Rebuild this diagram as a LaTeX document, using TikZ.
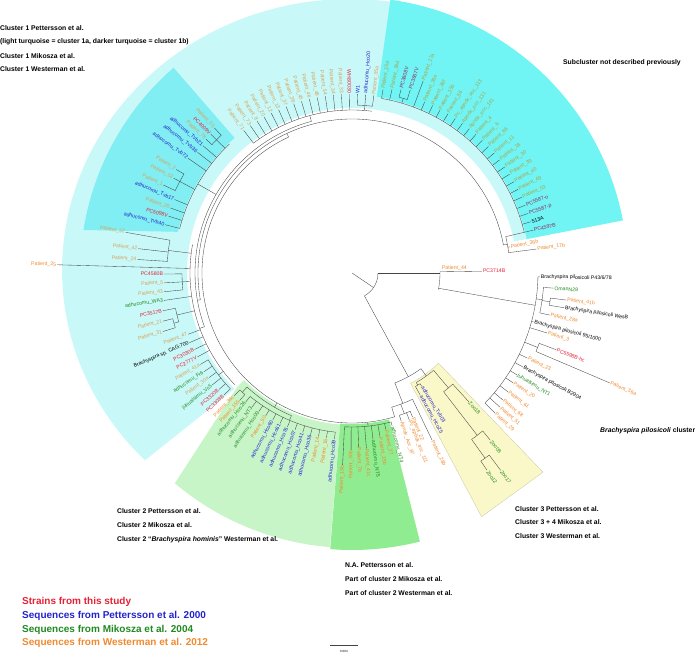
\documentclass[tikz,border=0pt]{standalone}
\usepackage{fontspec}
\setmainfont{Liberation Sans}
\usetikzlibrary{calc}
\definecolor{TreeRed}     {HTML}{E42235}
\definecolor{TreeBlue}    {HTML}{2323CC}
\definecolor{TreeGreen}   {HTML}{208A20}
\definecolor{TreeOrange}  {HTML}{F08A30}
\definecolor{OrangeOnCyan}{HTML}{D6A45C}
\definecolor{OrangeOnTeal}{HTML}{A9A648}
\definecolor{RedOnTeal}   {HTML}{8E2E60}
\definecolor{CyanLight}   {HTML}{C9F8F8}
\definecolor{CyanDark}    {HTML}{70F4F4}
\definecolor{CyanMid}     {HTML}{80EEF2}
\definecolor{GreenLight}  {HTML}{C8F5C8}
\definecolor{GreenDark}   {HTML}{90EC90}
\definecolor{YellowPale}  {HTML}{FAF8C8}
\definecolor{BranchGray}  {HTML}{444444}

\newcommand\lffont{\fontsize{5.2}{6}\selectfont}
\newcommand\capfont{\bfseries\fontsize{6.8}{8}\selectfont}
\newcommand\clade[3]{\draw[branch] (#1:#3) arc[start angle=#1,end angle=#2,radius=#3];}
\newcommand\stem[3]{\draw[branch] (#1:#2) -- (#1:#3);}
\newcommand\leaf[6]{% name, angle, tip, parent, text, colour
  \coordinate (#1) at (#2:#3);
  \draw[branch] (#2:#4) -- (#1);
  \pgfmathtruncatemacro\rside{cos(#2)>0}%
  \ifnum\rside=1
    \node[leaflab,text=#6,rotate=#2,anchor=west] (#1-l) at (#1) {#5};
  \else
    \node[leaflab,text=#6,rotate=#2-180,anchor=east] (#1-l) at (#1) {#5};
  \fi}

\begin{document}
\begin{tikzpicture}[x=1pt,y=1pt,
    branch/.style={draw=BranchGray,line width=0.35pt},
    leaflab/.style={font=\lffont,inner sep=0.8pt},
    caption/.style={font=\capfont,anchor=west,inner sep=0},
    legend/.style={font=\bfseries\fontsize{10}{12}\selectfont,anchor=west,inner sep=0}]
  \useasboundingbox (-352,-388) rectangle (344,273);

  % shaded clusters
  \fill[CyanLight] (11:162) -- (11:274) arc[start angle=11,end angle=82,radius=274]
    arc[start angle=82,end angle=224.6,x radius=288,y radius=271]
    -- (224.6:165) arc[start angle=224.6,end angle=11,radius=165] -- cycle;
  \fill[CyanDark] (11:178) -- (11:276) arc[start angle=11,end angle=82,radius=276]
    -- (82:178) arc[start angle=82,end angle=11,radius=178] -- cycle;
  \fill[CyanMid] (131:182) -- (131:272) arc[start angle=131,end angle=170.9,radius=272]
    -- (166.7:179) arc[start angle=166.7,end angle=131,radius=179] -- cycle;
  \fill[GreenLight] (224.8:162) -- (229.9:275) arc[start angle=229.9,end angle=265.4,radius=275]
    -- (265.5:152) arc[start angle=265.5,end angle=224.8,radius=152] -- cycle;
  \fill[GreenDark] (265.5:151) -- (265.5:277) arc[start angle=265.5,end angle=284.2,radius=277]
    -- (284.2:151) arc[start angle=284.2,end angle=265.5,radius=151] -- cycle;
  \filldraw[fill=YellowPale,draw=YellowPale!80!black,line width=0.3pt]
    (-62:125) -- (-62:276) -- (-46.2:276) -- (-46.2:125)
    arc[start angle=-46.2,end angle=-62,radius=125] -- cycle;

  % root and backbone
  \draw[branch] (0,0) -- (-34:26);
  \clade{-61.5}{0}{26}
  \stem{0}{26}{88}
  \clade{-10.9}{0.8}{88}
  \stem{-10}{88}{186}
  \clade{-44.4}{-1.2}{186}
  \stem{-8}{186}{192}     \clade{-12}{-4.3}{192}
  \stem{-8.25}{192}{200}  \clade{-9.3}{-7.2}{200}
  \stem{-21.85}{186}{200} \clade{-23.1}{-20.6}{200}
  \stem{-61.5}{26}{118}   \clade{-68.7}{-54.2}{118}
  \stem{-68.7}{118}{140}  \clade{-73.5}{-64.4}{140}
  \stem{-69.6}{140}{150}  \clade{-71.6}{-67.2}{150}
  \stem{-54.2}{118}{127}  \clade{-59.6}{-50}{127}
  \stem{-59.6}{127}{130}  \clade{-60.8}{-58.4}{130}
  \stem{-50}{127}{150}    \clade{-52.35}{-47.8}{150}
  \stem{-52.35}{150}{205} \clade{-54.3}{-50.4}{205}
  \stem{-54.3}{205}{228}  \clade{-55.6}{-53}{228}
  \stem{-73.5}{140}{150}  \clade{115}{286.5}{150}
  \stem{276}{150}{154}    \clade{267.2}{284.7}{154}
  \stem{240}{150}{155}    \clade{227.4}{247}{155}
  \stem{227.4}{155}{162}  \clade{226.2}{228.6}{162}
  \stem{247}{155}{160}    \clade{230.5}{264}{160}
  \stem{115}{150}{154}    \clade{10.5}{190}{154}
  \stem{10.5}{154}{158}   \clade{7.4}{13.3}{158}
  \stem{13.3}{158}{177}   \clade{13.3}{80.4}{177}
  \stem{73.65}{177}{182}  \clade{72.3}{75}{182}
  \stem{190}{154}{157}    \clade{105}{200}{157}
  \stem{105}{157}{163}    \clade{83}{127.2}{163}
  \stem{85.6}{163}{168}   \clade{83}{88.2}{168}
  \stem{150}{157}{178}    \clade{133.5}{165.5}{178}
  \stem{135.5}{178}{190}  \clade{133.5}{137.5}{190}
  \stem{152}{178}{195}    \clade{149.5}{155}{195}
  \stem{200}{157}{162}    \clade{169.8}{223.6}{162}
  \stem{173}{162}{185}    \clade{169.8}{176.4}{185}
  \stem{183}{162}{170}    \clade{180.3}{185.7}{170}
  \stem{193.5}{162}{180}  \clade{191.3}{195.75}{180}
  \stem{195.75}{180}{185} \clade{194.3}{197.2}{185}
  \stem{217.4}{162}{168}  \clade{211.1}{223.6}{168}

  % Patient_44 group
  \leaf{pc37}{0.8}{130}{88}{PC3714B}{TreeRed}
  \node[leaflab,text=TreeOrange,anchor=south west] (p44) at (0.8:89) {Patient\_44};

  % pilosicoli cluster
  \foreach \a/\r/\p/\t/\c [count=\i] in {
    -1.2/188/186/{Brachyspira pilosicoli P43/6/78}/black,
    -4.3/202/192/OmanN28/TreeGreen,
    -7.2/216/200/Patient\_41b/TreeOrange,
    -9.3/215/200/{Brachyspira pilosicoli WesB}/black,
    -12/202/192/Patient\_28a/TreeOrange,
    -15.1/188/186/{Brachyspira pilosicoli 95/1000}/black,
    -17.1/204/186/Patient\_3/TreeOrange,
    -20.6/218/200/PC5598B-hc/TreeRed,
    -23.1/280/200/Patient\_36a/TreeOrange,
    -25.9/195/186/Patient\_23/TreeOrange,
    -28.8/195/186/{Brachyspira pilosicoli B2904}/black,
    -31.7/194/186/juhualsimu\_NT1/TreeGreen,
    -34.3/195/186/Patient\_20/TreeOrange,
    -37.3/196/186/Patient\_61/TreeOrange,
    -40.1/197/186/Patient\_68/TreeOrange,
    -42.2/200/186/Patient\_51/TreeOrange,
    -44.4/200/186/Patient\_29/TreeOrange}
    {\leaf{pl-\i}{\a}{\r}{\p}{\t}{\c}}

  % cluster 3 and neighbours
  \foreach \a/\r/\p/\t/\c [count=\i] in {
    -58.4/133/130/adhucomu\_Tvb03/TreeBlue,
    -60.8/140/130/adhucomu\_Hco25/TreeBlue,
    -47.8/174/150/Zoo18/TreeGreen,
    -50.4/217/205/Zoo08/TreeGreen,
    -53/247/228/Zoo17/TreeGreen,
    -55.6/239/228/Zoo12/TreeGreen,
    -64.4/185/140/Patient\_28b/TreeOrange,
    -67.2/156/150/Patient\_22/TreeOrange,
    -68.7/158/150/Pc\_apndx\_acc\_111/TreeOrange,
    -71.6/156/150/Apndx\_Acc\_87/TreeOrange}
    {\leaf{c3-\i}{\a}{\r}{\p}{\t}{\c}}

  % N.A. group
  \foreach \a/\r/\t/\c [count=\i] in {
    267.2/192/Patient\_19b/TreeOrange, 269.7/177/Patient\_30b/TreeOrange,
    272.2/174/Patient\_7b/TreeOrange, 274.7/176/Patient\_41c/TreeOrange,
    277.2/168/adhucomu\_NT5/TreeGreen, 279.7/166/Patient\_35b/TreeOrange,
    282.2/160/Patient\_27/TreeOrange, 284.7/158/adhucomu\_NT4/TreeGreen}
    {\leaf{na-\i}{\a}{\r}{154}{\t}{\c}}

  % cluster 2
  \leaf{c2-a}{226.2}{170}{162}{Patient\_36c}{TreeOrange}
  \leaf{c2-b}{228.6}{170}{162}{Patient\_155}{TreeOrange}
  \foreach \t/\c [count=\i from 0] in {
    adhucomu\_Hco26/TreeGreen, adhucomu\_NT3/TreeGreen, adhucomu\_Hco09/TreeGreen,
    Patient\_50/TreeOrange, adhucomu\_Hco60/TreeBlue, adhucomu\_Hco61/TreeBlue,
    adhucomu\_Hco76/TreeBlue, adhucomu\_Hco07/TreeBlue, adhucomu\_Hco41/TreeBlue,
    adhucomu\_Hco36/TreeBlue, Patient\_14/TreeOrange, Patient\_16/TreeOrange,
    adhucomu\_Hco39/TreeBlue}
    {\pgfmathsetmacro\a{230.5+2.79*\i}
     \leaf{c2-\i}{\a}{167}{160}{\t}{\c}}

  % Patient_36b / 17b
  \leaf{g-1}{7.4}{186}{158}{Patient\_17b}{TreeOrange}
  \leaf{g-2}{9.4}{160}{158}{Patient\_36b}{TreeOrange}

  % subcluster not described previously
  \foreach \t/\r/\p/\c [count=\i from 0] in {
    Patient\_15a/186/177/OrangeOnTeal, Patient\_36d/188/177/OrangeOnTeal,
    PC3808V/190/182/RedOnTeal, PC3657V/192/182/RedOnTeal,
    Patient\_17a/205/177/OrangeOnTeal, Patient\_36e/186/177/OrangeOnTeal,
    Patient\_36f/186/177/OrangeOnTeal, Patient\_15b/185/177/OrangeOnTeal,
    Patient\_56/186/177/OrangeOnTeal, Pc\_apndx\_acc\_113/186/177/OrangeOnTeal,
    Apndx\_occ\_131/186/177/OrangeOnTeal, Apndx\_occ\_141/186/177/OrangeOnTeal,
    Patient\_4/186/177/OrangeOnTeal, Patient\_6/186/177/OrangeOnTeal,
    Patient\_66/186/177/OrangeOnTeal, Patient\_11/186/177/OrangeOnTeal,
    Patient\_18/186/177/OrangeOnTeal, Patient\_30/186/177/OrangeOnTeal,
    Patient\_39/186/177/OrangeOnTeal, Patient\_40/186/177/OrangeOnTeal,
    Patient\_49/186/177/OrangeOnTeal, Patient\_53/186/177/OrangeOnTeal,
    PC5587-o/186/177/RedOnTeal, PC5587-p/186/177/RedOnTeal,
    513A/186/177/black, PC4597B/186/177/RedOnTeal}
    {\pgfmathsetmacro\a{80.4-2.684*\i}
     \leaf{dt-\i}{\a}{\r}{\p}{\t}{\c}}

  % cluster 1a, upper part
  \foreach \t/\p/\c [count=\i from 0] in {
    Patient\_35a/168/OrangeOnCyan, adhucomu\_Hco20/168/TreeBlue, W1/168/TreeBlue,
    WH80030/163/TreeRed, Patient\_33/163/OrangeOnCyan, Patient\_34/163/OrangeOnCyan,
    Patient\_54/163/OrangeOnCyan, Patient\_48/163/OrangeOnCyan, Patient\_46/163/OrangeOnCyan,
    Patient\_45/163/OrangeOnCyan, Patient\_38/163/OrangeOnCyan, Patient\_37/163/OrangeOnCyan,
    Patient\_13/163/OrangeOnCyan, Patient\_12/163/OrangeOnCyan, Patient\_20/163/OrangeOnCyan,
    Patient\_8/163/OrangeOnCyan, Patient\_73/163/OrangeOnCyan, Patient\_71/163/OrangeOnCyan}
    {\pgfmathsetmacro\a{83+2.6*\i}
     \leaf{ta-\i}{\a}{179}{\p}{\t}{\c}}

  % cluster 1b
  \foreach \a/\r/\p/\t/\c [count=\i] in {
    133.5/200/190/Patient\_55/OrangeOnCyan, 135.5/198/190/PC4009V/TreeRed,
    137.5/198/190/Patient\_78/OrangeOnCyan, 139.5/196/178/adhucomu\_Tvb21/TreeBlue,
    142/196/178/adhucomu\_Tvb36/TreeBlue, 145/200/178/adhucomu\_Tvb72/TreeBlue,
    149.5/204/195/Patient\_2/OrangeOnCyan, 152/202/195/Patient\_52/OrangeOnCyan,
    155/208/195/Patient\_1/OrangeOnCyan, 157.5/192/178/adhucomu\_Tvb17/TreeBlue,
    160.3/193/178/Patient\_28/OrangeOnCyan, 162.8/192/178/PC5098V/TreeRed,
    165.5/193/178/adhucomu\_Tvb40/TreeBlue}
    {\leaf{tb-\i}{\a}{\r}{\p}{\t}{\c}}

  % cluster 1a, lower part
  \foreach \a/\r/\p/\t/\c [count=\i] in {
    169.8/230/185/Patient\_32/OrangeOnCyan, 173.5/215/185/Patient\_42/OrangeOnCyan,
    176.4/215/185/Patient\_24/OrangeOnCyan, 178.4/295/162/Patient\_25/TreeOrange,
    180.3/188/170/PC4580B/TreeRed, 183/188/170/Patient\_5/OrangeOnCyan,
    185.7/189/170/Patient\_43/OrangeOnCyan, 188.3/190/162/adhucomu\_WA3/TreeGreen,
    191.3/193/180/PC3517B/TreeRed, 194.3/195/185/Patient\_21/OrangeOnCyan,
    197.2/198/185/Patient\_31/OrangeOnCyan, 200.5/175/162/Patient\_47/OrangeOnCyan,
    203.2/177/162/{Brachyspira sp. CAG:700}/black, 205.9/175/162/PC3030B/TreeRed,
    208.5/176/162/PC2777V/TreeRed, 211.1/177/168/Patient\_41a/OrangeOnCyan,
    213.7/178/168/adhucomu\_Fr6/TreeGreen, 216.2/177/168/Patient\_30a/OrangeOnCyan,
    218.7/179/168/juhualsimu\_Vs5/TreeGreen, 221.2/177/168/PC3320B/TreeRed,
    223.6/177/168/PC3308B/TreeRed}
    {\leaf{tc-\i}{\a}{\r}{\p}{\t}{\c}}

  % captions, in page coordinates
  \begin{scope}[y=-1pt,shift={(-352pt,273pt)}]
    \node[caption] (c1a) at (0,28) {Cluster 1 Pettersson et al.};
    \node[caption] (c1b) at (0,42) {(light turquoise = cluster 1a, darker turquoise = cluster 1b)};
    \node[caption] (c1c) at (0,56) {Cluster 1 Mikosza et al.};
    \node[caption] (c1d) at (0,69) {Cluster 1 Westerman et al.};
    \node[caption] (sub) at (563,63) {Subcluster not described previously};
    \node[caption] (pil) at (600,431) {\textit{Brachyspira pilosicoli} cluster};
    \node[caption] (c2a) at (117,511) {Cluster 2 Pettersson et al.};
    \node[caption] (c2b) at (117,525) {Cluster 2 Mikosza et al.};
    \node[caption] (c2c) at (117,540) {Cluster 2 “\textit{Brachyspira hominis}” Westerman et al.};
    \node[caption] (naa) at (345,565) {N.A. Pettersson et al.};
    \node[caption] (nab) at (345,579) {Part of cluster 2 Mikosza et al.};
    \node[caption] (nac) at (345,593) {Part of cluster 2 Westerman et al.};
    \node[caption] (c3a) at (515,509) {Cluster 3 Pettersson et al.};
    \node[caption] (c3b) at (515,522) {Cluster 3 + 4 Mikosza et al.};
    \node[caption] (c3c) at (515,536) {Cluster 3 Westerman et al.};
    \node[legend,text=TreeRed]    (lg1) at (22,602) {Strains from this study};
    \node[legend,text=TreeBlue]   (lg2) at (22,616) {Sequences from Pettersson et al. 2000};
    \node[legend,text=TreeGreen]  (lg3) at (22,630) {Sequences from Mikosza et al. 2004};
    \node[legend,text=TreeOrange] (lg4) at (22,643) {Sequences from Westerman et al. 2012};
    \coordinate (sbl) at (330,645);
    \coordinate (sbr) at (358,645);
    \draw[branch] (sbl) -- (sbr);
    \node[font=\fontsize{3}{3}\selectfont,inner sep=0] (sbt) at (344,651) {0.004};
  \end{scope}
\end{tikzpicture}
\end{document}
